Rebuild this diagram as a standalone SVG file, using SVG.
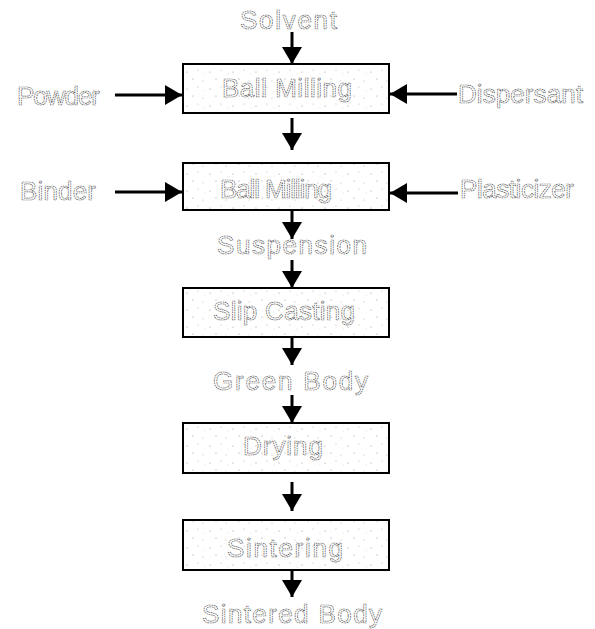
<svg xmlns="http://www.w3.org/2000/svg" width="595" height="629" viewBox="0 0 595 629">
<style>
.box{fill:url(#speck);stroke:#000;stroke-width:2}
.t{font-family:"Liberation Sans",Arial,sans-serif;font-size:26px;fill:#fff;stroke:#555;stroke-width:0.7;stroke-dasharray:1.6 0.7}
.c{stroke:#000;stroke-width:3;fill:none;marker-end:url(#ah)}
</style>
<defs>
<marker id="ah" markerUnits="userSpaceOnUse" markerWidth="18" markerHeight="20" refX="17" refY="10" orient="auto">
<path d="M0,0 L17,10 L0,20 Z" fill="#000"/>
</marker>
<pattern id="speck" patternUnits="userSpaceOnUse" width="23" height="17">
<rect width="23" height="17" fill="#fff"/>
<circle cx="3" cy="4" r="0.6" fill="#999"/>
<circle cx="14" cy="2" r="0.5" fill="#aaa"/>
<circle cx="9" cy="11" r="0.6" fill="#999"/>
<circle cx="19" cy="13" r="0.5" fill="#aaa"/>
<circle cx="21" cy="6" r="0.4" fill="#bbb"/>
</pattern>
</defs>
<g id="connectors">
<line class="c" x1="292" y1="32" x2="292" y2="64"/>
<line class="c" x1="115" y1="95" x2="182" y2="95"/>
<line class="c" x1="457" y1="94" x2="390" y2="94"/>
<line class="c" x1="292" y1="118" x2="292" y2="150"/>
<line class="c" x1="115" y1="192" x2="182" y2="192"/>
<line class="c" x1="458" y1="193" x2="390" y2="193"/>
<line class="c" x1="292" y1="211" x2="292" y2="239"/>
<line class="c" x1="292" y1="260" x2="292" y2="288"/>
<line class="c" x1="292" y1="337" x2="292" y2="365"/>
<line class="c" x1="292" y1="395" x2="292" y2="423"/>
<line class="c" x1="292" y1="482" x2="292" y2="511"/>
<line class="c" x1="292" y1="570" x2="292" y2="597"/>
</g>
<g id="solvent"><text class="t" x="240" y="29" textLength="97" lengthAdjust="spacing">Solvent</text></g>
<g id="powder"><text class="t" x="17" y="105" textLength="83" lengthAdjust="spacing">Powder</text></g>
<g id="dispersant"><text class="t" x="458" y="103" textLength="125" lengthAdjust="spacing">Dispersant</text></g>
<g id="ballmilling1">
<rect class="box" x="183" y="64" width="206" height="49"/>
<text class="t" x="222" y="97" textLength="130" lengthAdjust="spacing">Ball Milling</text>
</g>
<g id="binder"><text class="t" x="20" y="200" textLength="76" lengthAdjust="spacing">Binder</text></g>
<g id="plasticizer"><text class="t" x="460" y="198" textLength="114" lengthAdjust="spacing">Plasticizer</text></g>
<g id="ballmilling2">
<rect class="box" x="183" y="163" width="206" height="47"/>
<text class="t" x="220" y="198" textLength="112" lengthAdjust="spacing">Ball Milling</text>
</g>
<g id="suspension"><text class="t" x="217" y="254" textLength="150" lengthAdjust="spacing">Suspension</text></g>
<g id="slipcasting">
<rect class="box" x="183" y="288" width="206" height="49"/>
<text class="t" x="213" y="320" textLength="142" lengthAdjust="spacing">Slip Casting</text>
</g>
<g id="greenbody"><text class="t" x="213" y="390" textLength="155" lengthAdjust="spacing">Green Body</text></g>
<g id="drying">
<rect class="box" x="183" y="423" width="206" height="50"/>
<text class="t" x="243" y="455" textLength="80" lengthAdjust="spacing">Drying</text>
</g>
<g id="sintering">
<rect class="box" x="183" y="520" width="206" height="50"/>
<text class="t" x="227" y="557" textLength="116" lengthAdjust="spacing">Sintering</text>
</g>
<g id="sinteredbody"><text class="t" x="202" y="623" textLength="180" lengthAdjust="spacing">Sintered Body</text></g>
</svg>
